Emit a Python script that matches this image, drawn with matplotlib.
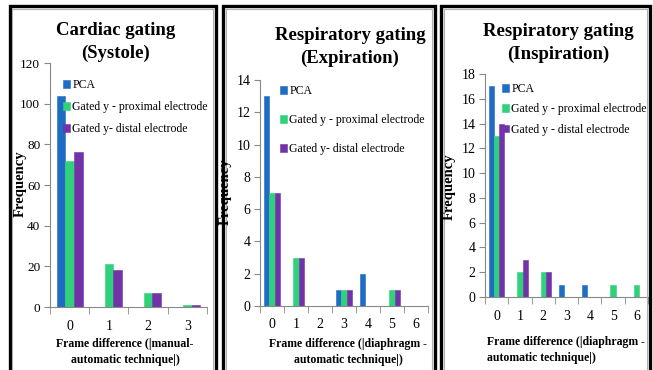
import numpy as np
import matplotlib.pyplot as plt
from matplotlib.patches import Rectangle

plt.rcParams['font.family'] = ['Liberation Serif', 'DejaVu Serif']

series = ['PCA', 'Gated y - proximal electrode', 'Gated y- distal electrode']
series_insp = ['PCA', 'Gated y - proximal electrode', 'Gated y - distal electrode']
colors = ['#1f6cc4', '#2fd27a', '#7232a8']

# Cardiac gating (systole)
cats_sys = [0, 1, 2, 3]
pca_sys = [104, 0, 0, 0]
prox_sys = [72, 21, 7, 1]
dist_sys = [76, 18, 7, 1]

# Respiratory gating (expiration)
cats_exp = [0, 1, 2, 3, 4, 5, 6]
pca_exp = [13, 0, 0, 1, 2, 0, 0]
prox_exp = [7, 3, 0, 1, 0, 1, 0]
dist_exp = [7, 3, 0, 1, 0, 1, 0]

# Respiratory gating (inspiration)
cats_insp = [0, 1, 2, 3, 4, 5, 6]
pca_insp = [17, 0, 0, 1, 1, 0, 0]
prox_insp = [13, 2, 2, 0, 0, 1, 1]
dist_insp = [14, 3, 2, 0, 0, 0, 0]

W, H = 653, 370
fig = plt.figure(figsize=(W / 100, H / 100), dpi=100)


def fx(px):
    return px / W


def fy(py):
    return 1 - py / H


panels = [
    dict(rect=(50, 63, 207, 307), cats=cats_sys, vals=[pca_sys, prox_sys, dist_sys], names=series,
         ymax=120, ystep=20, title='Cardiac gating\n(Systole)', tpos=(116, 42),
         xlab='Frame difference (|manual-\nautomatic technique|)', xpos=(125, 352), xha='center',
         ypos=(20, 184), leg=(63, 79), lspace=0.85, border=(9.5, 216), tsize=9.5),
    dict(rect=(260, 80, 428, 306), cats=cats_exp, vals=[pca_exp, prox_exp, dist_exp], names=series,
         ymax=14, ystep=2, title='Respiratory gating\n(Expiration)', tpos=(350, 47),
         xlab='Frame difference (|diaphragm -\nautomatic technique|)', xpos=(348, 352), xha='center',
         ypos=(225, 192), leg=(280, 85), lspace=1.45, border=(222.5, 435), tsize=10),
    dict(rect=(485, 74, 648, 297), cats=cats_insp, vals=[pca_insp, prox_insp, dist_insp], names=series_insp,
         ymax=18, ystep=2, title='Respiratory gating\n(Inspiration)', tpos=(558, 43),
         xlab='Frame difference (|diaphragm -\nautomatic technique|)', xpos=(487, 350), xha='left',
         ypos=(449, 187), leg=(502, 83), lspace=0.7, border=(440.5, 650), tsize=10),
]

bw = 0.222
for p in panels:
    x0, y0, x1, y1 = p['rect']
    ax = fig.add_axes([fx(x0), fy(y1), fx(x1) - fx(x0), fy(y0) - fy(y1)])
    x = np.arange(len(p['cats']))
    for i, (v, c, n) in enumerate(zip(p['vals'], colors, p['names'])):
        ax.bar(x + (i - 1) * bw, v, width=bw, color=c, edgecolor=c, linewidth=0.4, label=n)
    ax.set_xlim(-0.5, len(p['cats']) - 0.5)
    ax.set_ylim(0, p['ymax'])
    ax.set_yticks(np.arange(0, p['ymax'] + 1, p['ystep']))
    ax.set_xticks(x)
    ax.set_xticklabels([str(c) for c in p['cats']])
    ax.set_xticks(np.arange(-0.5, len(p['cats'])), minor=True)
    ax.tick_params(axis='x', which='major', length=0, pad=9, labelsize=10)
    ax.tick_params(axis='x', which='minor', length=5, color='#888888', direction='out')
    ax.tick_params(axis='y', length=4, color='#888888', labelsize=p['tsize'], pad=3)
    for s in ['top', 'right']:
        ax.spines[s].set_visible(False)
    for s in ['left', 'bottom']:
        ax.spines[s].set_color('#888888')
        ax.spines[s].set_linewidth(0.8)
    ax.set_facecolor('none')

    leg = ax.legend(loc='upper left', bbox_to_anchor=(fx(p['leg'][0]), fy(p['leg'][1])),
                    bbox_transform=fig.transFigure, frameon=False, fontsize=8.5,
                    handlelength=0.6, handleheight=0.6, handletextpad=0.2,
                    labelspacing=p['lspace'], borderpad=0, borderaxespad=0)

    fig.text(fx(p['tpos'][0]), fy(p['tpos'][1]), p['title'], ha='center', va='center',
             fontsize=13.5, fontweight='bold', linespacing=1.5)
    fig.text(fx(p['xpos'][0]), fy(p['xpos'][1]), p['xlab'], ha=p['xha'], va='center',
             fontsize=8.5, fontweight='bold', linespacing=1.5)
    fig.text(fx(p['ypos'][0]), fy(p['ypos'][1]), 'Frequency', ha='center', va='center',
             rotation=90, fontsize=10.5, fontweight='bold')

    bl, br = p['border']
    fig.patches.append(Rectangle((fx(bl), fy(380)), fx(br) - fx(bl), fy(5.5) - fy(380),
                                 transform=fig.transFigure, fill=False, edgecolor='black',
                                 linewidth=2.4, clip_on=False))
    fig.patches.append(Rectangle((fx(bl + 3), fy(380)), fx(br - 3) - fx(bl + 3), fy(8.5) - fy(380),
                                 transform=fig.transFigure, fill=False, edgecolor='#b0b0b0',
                                 linewidth=0.8, clip_on=False))

fig.savefig('out.png', dpi=100)
